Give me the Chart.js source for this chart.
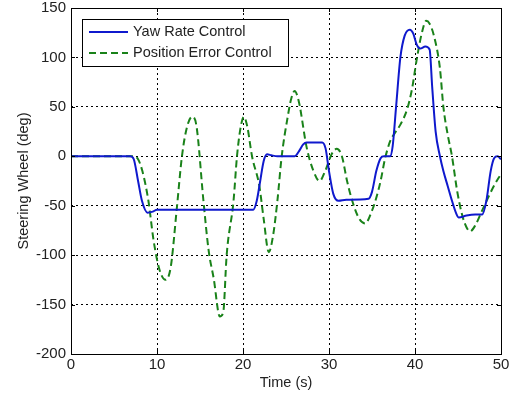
<!DOCTYPE html>
<html>
<head>
<meta charset="UTF-8">
<title>Steering Wheel</title>
<style>
  html, body { margin: 0; padding: 0; background: #fff; }
  #chart { display: block; }
</style>
<script src="https://cdn.jsdelivr.net/npm/chart.js"></script>
</head>
<body>
<canvas id="chart" width="513" height="394"></canvas>
<script>
// Yaw rate control (blue, solid) - [time s, steering deg]
var yawTime = [0, 6.9, 7.3, 7.8, 8.25, 8.9, 9.5, 10.0, 15.0, 21.2, 21.6, 22.0, 22.4, 22.8, 23.3, 24.0, 26.0, 26.5, 27.0, 27.4, 28.5, 29.2, 29.6, 30.0, 30.5, 31.1, 32.0, 34.6, 35.0, 35.5, 36.0, 36.4, 37.1, 37.4, 37.8, 38.3, 38.8, 39.4, 39.8, 40.2, 40.6, 41.2, 41.7, 42.0, 42.4, 42.9, 43.3, 43.8, 44.3, 44.8, 45.1, 46.0, 47.0, 47.8, 48.3, 48.8, 49.2, 49.6, 50.0];
var yawValue = [0, 0, -3, -25, -45, -57, -56, -54, -54, -54, -45, -25, -5, 2, 1, 0, 0, 5, 12, 14, 14, 14, 8, -15, -38, -45, -44, -43, -36, -15, -2, 0, 0, 10, 50, 100, 122, 128, 124, 113, 109, 111, 108, 70, 25, 0, -15, -30, -45, -58, -62, -60, -59, -59, -45, -15, -2, 0, -3];

// Position error control (green, dashed)
var posTime = [0, 7.3, 7.8, 8.3, 9.0, 9.6, 10.3, 11.0, 11.6, 12.3, 12.9, 13.5, 14.1, 14.6, 15.4, 16.0, 16.6, 17.3, 17.7, 18.1, 18.9, 19.3, 19.7, 20.1, 20.5, 21.05, 21.9, 22.4, 23.0, 23.5, 24.0, 24.5, 25.2, 25.6, 26.0, 26.5, 27.4, 28.2, 28.9, 29.6, 30.3, 30.9, 31.5, 32.1, 32.7, 33.5, 34.2, 35.0, 35.5, 36.0, 36.5, 37.1, 37.7, 38.3, 39.1, 39.65, 40.2, 40.8, 41.3, 41.7, 42.2, 42.9, 43.3, 43.8, 44.3, 44.9, 45.5, 46.0, 46.4, 47.0, 47.8, 48.6, 49.3, 50.0];
var posValue = [0, 0, -3, -15, -45, -85, -115, -125, -112, -53, 0, 30, 40, 30, -45, -95, -124, -162, -158, -100, -45, 0, 28, 40, 30, 0, -30, -63, -97, -80, -45, 0, 40, 58, 66, 55, 9, -15, -25, -14, 2, 7.5, 0, -25, -45, -63, -68, -55, -42, -25, -3, 15, 24, 32, 48, 68, 98, 125, 137, 134, 122, 89, 50, 22, 0, -35, -60, -72, -76, -70, -55, -40, -28, -18];

var xTicks = [0, 10, 20, 30, 40, 50];
var yTicks = [-200, -150, -100, -50, 0, 50, 100, 150];

var seriesNames = ["Yaw Rate Control", "Position Error Control"];
var seriesColors = ["rgb(15, 25, 205)", "rgb(25, 130, 25)"];

function toPoints(xs, ys) {
  var pts = [];
  for (var i = 0; i < xs.length; i++) {
    pts.push({ x: xs[i], y: ys[i] });
  }
  return pts;
}

var FONT = "'Liberation Sans', Arial, sans-serif";

// Box, tick marks and the legend, drawn like a MATLAB axes
var matlabFrame = {
  id: "matlabFrame",
  afterDatasetsDraw: function(chart) {
    var ctx = chart.ctx;
    var a = chart.chartArea;
    var xs = chart.scales.x, ys = chart.scales.y;
    ctx.save();
    ctx.strokeStyle = "#000";
    ctx.lineWidth = 1;
    ctx.setLineDash([]);
    ctx.strokeRect(Math.round(a.left) + 0.5, Math.round(a.top) + 0.5,
      Math.round(a.right - a.left), Math.round(a.bottom - a.top));

    // small inward tick marks
    ctx.beginPath();
    xTicks.forEach(function(v) {
      var px = Math.round(xs.getPixelForValue(v)) + 0.5;
      ctx.moveTo(px, a.bottom); ctx.lineTo(px, a.bottom - 4);
      ctx.moveTo(px, a.top); ctx.lineTo(px, a.top + 4);
    });
    yTicks.forEach(function(v) {
      var py = Math.round(ys.getPixelForValue(v)) + 0.5;
      ctx.moveTo(a.left, py); ctx.lineTo(a.left + 4, py);
      ctx.moveTo(a.right, py); ctx.lineTo(a.right - 4, py);
    });
    ctx.stroke();

    // legend
    var lx = 82, ly = 19, lw = 206, lh = 47;
    ctx.fillStyle = "#fff";
    ctx.fillRect(lx, ly, lw, lh);
    ctx.strokeRect(lx + 0.5, ly + 0.5, lw, lh);
    ctx.font = "14.5px " + FONT;
    ctx.textBaseline = "middle";
    chart.data.datasets.forEach(function(ds, i) {
      var rowY = ly + 13 + i * 21;
      ctx.strokeStyle = ds.borderColor;
      ctx.lineWidth = 2;
      ctx.setLineDash(ds.borderDash || []);
      ctx.beginPath();
      ctx.moveTo(89, rowY); ctx.lineTo(128, rowY);
      ctx.stroke();
      ctx.setLineDash([]);
      ctx.fillStyle = "#222";
      ctx.fillText(ds.label, 133, rowY);
    });
    ctx.restore();
  }
};

new Chart(document.getElementById("chart"), {
  type: "line",
  data: {
    datasets: [
      {
        label: seriesNames[0],
        data: toPoints(yawTime, yawValue),
        borderColor: seriesColors[0],
        borderWidth: 2,
        pointRadius: 0,
        cubicInterpolationMode: "monotone",
        fill: false
      },
      {
        label: seriesNames[1],
        data: toPoints(posTime, posValue),
        borderColor: seriesColors[1],
        borderWidth: 2,
        borderDash: [7, 4],
        pointRadius: 0,
        cubicInterpolationMode: "monotone",
        fill: false
      }
    ]
  },
  options: {
    responsive: false,
    animation: false,
    layout: { padding: { left: 0, top: 8, right: 12, bottom: 0 } },
    plugins: {
      legend: { display: false },
      tooltip: { enabled: false }
    },
    scales: {
      x: {
        type: "linear",
        min: 0,
        max: 50,
        afterFit: function(s) { s.height = 40; s.paddingLeft = 0; s.paddingRight = 0; },
        afterBuildTicks: function(s) { s.ticks = xTicks.map(function(v) { return { value: v }; }); },
        border: { display: false, dash: [2, 3] },
        grid: { color: "#000", lineWidth: 1, drawTicks: false },
        ticks: { color: "#222", font: { family: FONT, size: 15 }, padding: 2, maxRotation: 0 },
        title: { display: true, text: "Time (s)", color: "#222", font: { family: FONT, size: 14.5 }, padding: { top: 0, bottom: 2 } }
      },
      y: {
        type: "linear",
        min: -200,
        max: 150,
        afterFit: function(s) { s.width = 71; s.paddingTop = 0; s.paddingBottom = 0; },
        afterBuildTicks: function(s) { s.ticks = yTicks.map(function(v) { return { value: v }; }); },
        border: { display: false, dash: [2, 3] },
        grid: { color: "#000", lineWidth: 1, drawTicks: false },
        ticks: { color: "#222", font: { family: FONT, size: 15 }, padding: 5 },
        title: { display: true, text: "Steering Wheel (deg)", color: "#222", font: { family: FONT, size: 14.5 }, padding: { top: 15, bottom: 0 } }
      }
    }
  },
  plugins: [matlabFrame]
});
</script>
</body>
</html>
